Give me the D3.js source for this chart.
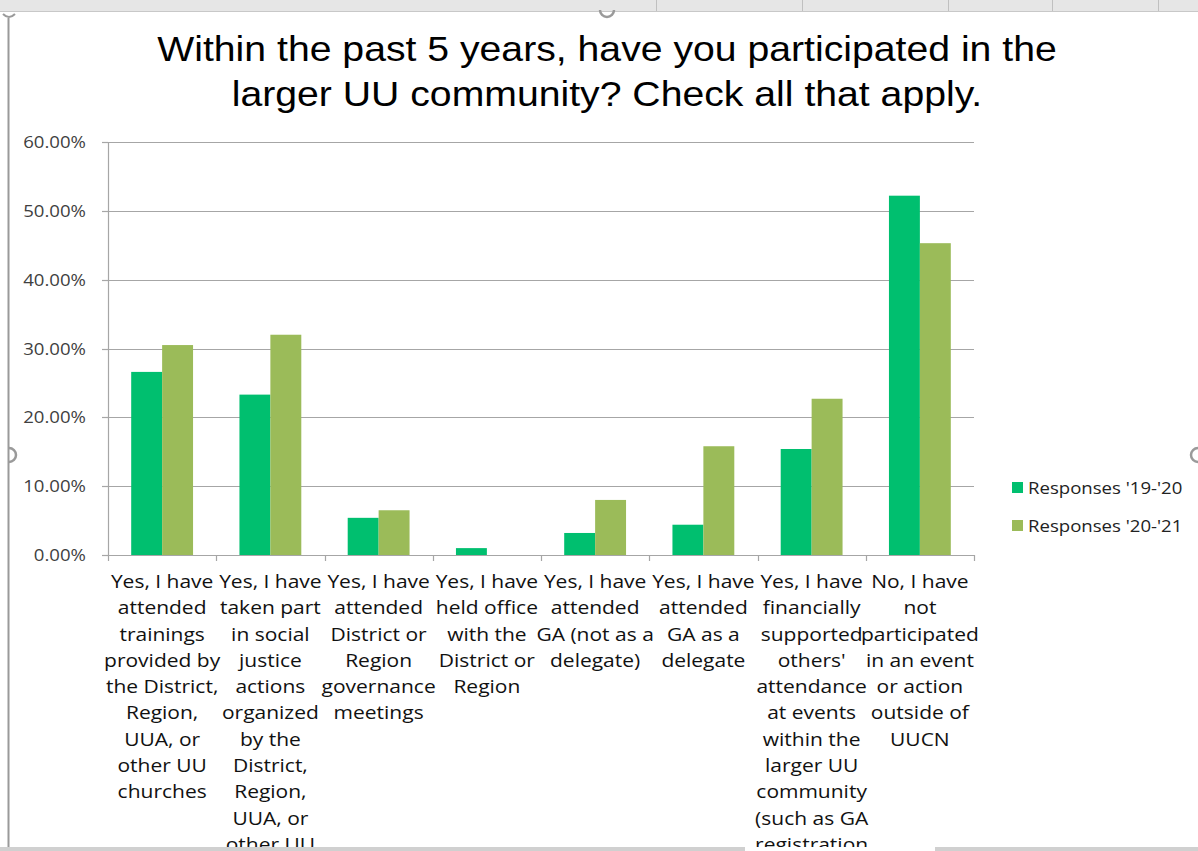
<!DOCTYPE html>
<html>
<head>
<meta charset="utf-8">
<script src="https://cdn.jsdelivr.net/npm/d3@7"></script>
<style>
  html, body { margin: 0; padding: 0; background: #fff; }
  svg { display: block; }
</style>
</head>
<body>
<svg id="chart" width="1198" height="851"></svg>
<script>
const titleLines = [
  "Within the past 5 years, have you participated in the",
  "larger UU community? Check all that apply."
];
const categories = [
  "Yes, I have\nattended\ntrainings\nprovided by\nthe District,\nRegion,\nUUA, or\nother UU\nchurches",
  "Yes, I have\ntaken part\nin social\njustice\nactions\norganized\nby the\nDistrict,\nRegion,\nUUA, or\nother UU\nchurches",
  "Yes, I have\nattended\nDistrict or\nRegion\ngovernance\nmeetings",
  "Yes, I have\nheld office\nwith the\nDistrict or\nRegion",
  "Yes, I have\nattended\nGA (not as a\ndelegate)",
  "Yes, I have\nattended\nGA as a\ndelegate",
  "Yes, I have\nfinancially\nsupported\nothers'\nattendance\nat events\nwithin the\nlarger UU\ncommunity\n(such as GA\nregistration\nfees)",
  "No, I have\nnot\nparticipated\nin an event\nor action\noutside of\nUUCN"
];
const seriesNames = ["Responses '19-'20", "Responses '20-'21"];
const responses1920 = [0.266, 0.233, 0.054, 0.010, 0.032, 0.044, 0.154, 0.522];
const responses2021 = [0.305, 0.320, 0.065, 0.000, 0.080, 0.158, 0.227, 0.453];
const yTicks = [0, 0.1, 0.2, 0.3, 0.4, 0.5, 0.6];
const colors = ["#00BF6F", "#9BBB59"];

const svg = d3.select("#chart");
const SX = 1.2; // horizontal stretch seen in the screenshot
const bodyFont = "Open Sans, Lato, sans-serif";

// Excel surroundings
svg.append("rect").attr("x", 0).attr("y", 0).attr("width", 1198).attr("height", 11).attr("fill", "#E6E6E6");
svg.append("line").attr("x1", 0).attr("x2", 1198).attr("y1", 11.5).attr("y2", 11.5).attr("stroke", "#C8C8C8");
[656, 802, 948, 1052, 1158].forEach(x => {
  svg.append("line").attr("x1", x + 0.5).attr("x2", x + 0.5).attr("y1", 0).attr("y2", 11).attr("stroke", "#C0C0C0");
});
svg.append("line").attr("x1", 8.5).attr("x2", 8.5).attr("y1", 18).attr("y2", 851).attr("stroke", "#9A9A9A").attr("stroke-width", 2);
svg.append("path").attr("d", "M3,14 Q9,20 15,14").attr("fill", "none").attr("stroke", "#9A9A9A").attr("stroke-width", 2);
svg.append("path").attr("d", "M600,10 A7,7 0 0 0 614,10").attr("fill", "none").attr("stroke", "#9A9A9A").attr("stroke-width", 2.5);
svg.append("path").attr("d", "M9,448 A7,7 0 0 1 9,462").attr("fill", "none").attr("stroke", "#9A9A9A").attr("stroke-width", 2.5);
svg.append("path").attr("d", "M1198,448 A7,7 0 0 0 1198,462").attr("fill", "none").attr("stroke", "#9A9A9A").attr("stroke-width", 2.5);

// Title
const title = svg.append("text")
  .attr("transform", "translate(607,61) scale(1.12,1)")
  .attr("text-anchor", "middle")
  .attr("font-family", "Liberation Sans, Arial, sans-serif")
  .attr("font-size", 35)
  .attr("fill", "#000");
titleLines.forEach((t, i) => {
  title.append("tspan").attr("x", 0).attr("dy", i === 0 ? 0 : 45).text(t);
});

const margin = { left: 108, right: 974, top: 142, bottom: 555 };
const x0 = d3.scaleBand().domain(d3.range(categories.length)).range([margin.left, margin.right]).paddingInner(0).paddingOuter(0);
const y = d3.scaleLinear().domain([0, 0.6]).range([margin.bottom, margin.top]);
const bw = x0.bandwidth();
const x1 = d3.scaleBand().domain([0, 1]).range([bw * 0.2143, bw * 0.7857]).padding(0);

// gridlines
svg.append("g").selectAll("line").data(yTicks.filter(d => d > 0)).join("line")
  .attr("x1", margin.left - 6).attr("x2", margin.right)
  .attr("y1", d => Math.round(y(d)) + 0.5).attr("y2", d => Math.round(y(d)) + 0.5)
  .attr("stroke", "#A6A6A6").attr("stroke-width", 1.2);

// y axis labels
svg.append("g").selectAll("text").data(yTicks).join("text")
  .attr("transform", d => `translate(86,${y(d) + 6}) scale(${SX},1)`)
  .attr("text-anchor", "end")
  .attr("font-family", bodyFont)
  .attr("font-size", 15.5)
  .attr("fill", "#404040")
  .text(d => d3.format(".2%")(d));

// bars
const series = [responses1920, responses2021];
series.forEach((vals, si) => {
  svg.append("g").selectAll("rect").data(vals).join("rect")
    .attr("x", (d, i) => x0(i) + x1(si))
    .attr("width", x1.bandwidth())
    .attr("y", d => y(d))
    .attr("height", d => y(0) - y(d))
    .attr("fill", colors[si]);
});

// y axis line and ticks
svg.append("line").attr("x1", margin.left + 0.5).attr("x2", margin.left + 0.5)
  .attr("y1", margin.top).attr("y2", margin.bottom).attr("stroke", "#A6A6A6").attr("stroke-width", 1.2);
svg.append("g").selectAll("line").data(yTicks).join("line")
  .attr("x1", margin.left - 6).attr("x2", margin.left)
  .attr("y1", d => Math.round(y(d)) + 0.5).attr("y2", d => Math.round(y(d)) + 0.5)
  .attr("stroke", "#A6A6A6").attr("stroke-width", 1.2);

// x axis line and ticks
svg.append("line").attr("x1", margin.left - 6).attr("x2", margin.right)
  .attr("y1", margin.bottom + 0.5).attr("y2", margin.bottom + 0.5).attr("stroke", "#A6A6A6").attr("stroke-width", 1.2);
svg.append("g").selectAll("line").data(d3.range(categories.length + 1)).join("line")
  .attr("x1", i => Math.round(margin.left + i * bw) + 0.5).attr("x2", i => Math.round(margin.left + i * bw) + 0.5)
  .attr("y1", margin.bottom).attr("y2", margin.bottom + 6)
  .attr("stroke", "#A6A6A6").attr("stroke-width", 1.2);

// category labels (clipped at bottom of visible area, as in the screenshot)
svg.append("clipPath").attr("id", "clipLabels").append("rect")
  .attr("x", 0).attr("y", 560).attr("width", 1198).attr("height", 287);
const lab = svg.append("g").attr("clip-path", "url(#clipLabels)");
categories.forEach((c, i) => {
  const t = lab.append("text")
    .attr("transform", `translate(${x0(i) + bw / 2},588) scale(${SX},1)`)
    .attr("text-anchor", "middle")
    .attr("font-family", bodyFont)
    .attr("font-size", 17.5)
    .attr("fill", "#111");
  c.split("\n").forEach((line, j) => {
    t.append("tspan").attr("x", 0).attr("dy", j === 0 ? 0 : 26.3).text(line);
  });
});

// bottom excel band
svg.append("rect").attr("x", 0).attr("y", 847).attr("width", 745).attr("height", 4).attr("fill", "#D0D0D0");
svg.append("rect").attr("x", 935).attr("y", 847).attr("width", 263).attr("height", 4).attr("fill", "#D0D0D0");

// legend
const leg = svg.append("g");
seriesNames.forEach((n, i) => {
  leg.append("rect").attr("x", 1012).attr("y", 482 + i * 38).attr("width", 11).attr("height", 11).attr("fill", colors[i]);
  leg.append("text")
    .attr("transform", `translate(1028,${494 + i * 38}) scale(${SX},1)`)
    .attr("font-family", bodyFont)
    .attr("font-size", 15.5)
    .attr("fill", "#222")
    .text(n);
});
</script>
</body>
</html>
